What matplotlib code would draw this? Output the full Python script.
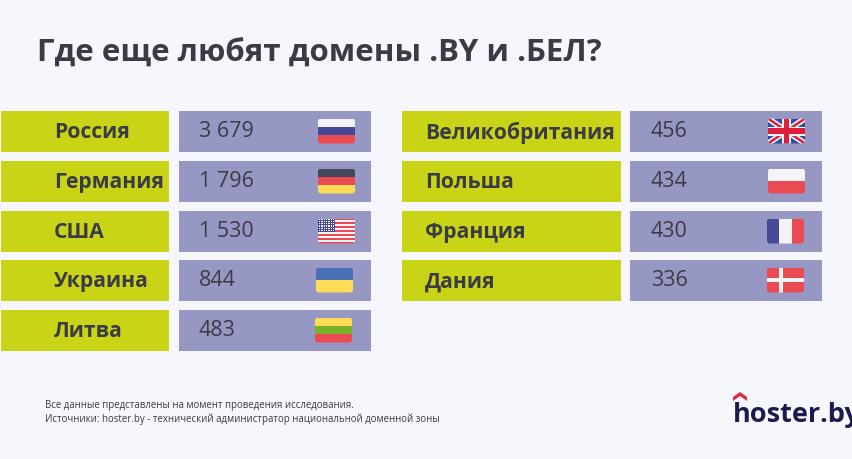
import matplotlib
matplotlib.use('Agg')
import matplotlib.pyplot as plt
from matplotlib.patches import Rectangle, FancyBboxPatch, Polygon

# Data
title = 'Где еще любят домены .BY и .БЕЛ?'
left_countries = ['Россия', 'Германия', 'США', 'Украина', 'Литва']
left_values = ['3 679', '1 796', '1 530', '844', '483']
left_flags = ['ru', 'de', 'us', 'ua', 'lt']
right_countries = ['Великобритания', 'Польша', 'Франция', 'Дания']
right_values = ['456', '434', '430', '336']
right_flags = ['gb', 'pl', 'fr', 'dk']
note_lines = ['Все данные представлены на момент проведения исследования.',
              'Источники: hoster.by - технический администратор национальной доменной зоны']
logo_text = 'hoster.by'

BG = '#f6f7fc'
GREEN = '#c9d416'
PURPLE = '#9797c3'
DARK = '#3b3b45'
RED = '#ea4a52'
BLUE = '#44499a'
WHITE = '#f4f4f6'
YELLOW = '#ffdc55'
NAVY = '#1d1b4d'

ROW_TOPS = [112, 162, 212, 261, 311]
ROW_H = 40.5

plt.rcParams['font.family'] = ['Open Sans', 'DejaVu Sans']

fig = plt.figure(figsize=(8.53, 4.60), dpi=100, facecolor=BG)
ax = fig.add_axes([0, 0, 1, 1])
ax.set_xlim(0, 853)
ax.set_ylim(460, 0)
ax.axis('off')


def stripes(clip, x, y, w, h, colors, vertical=False):
    n = len(colors)
    for i, c in enumerate(colors):
        if vertical:
            r = Rectangle((x + i * w / n, y), w / n, h, fc=c, lw=0, zorder=3)
        else:
            r = Rectangle((x, y + i * h / n), w, h / n, fc=c, lw=0, zorder=3)
        ax.add_patch(r)
        r.set_clip_path(clip)


def draw_flag(code, x, y, w=37, h=25):
    clip = FancyBboxPatch((x, y), w, h, boxstyle='round,pad=0,rounding_size=3',
                          fc='none', ec='none', zorder=3)
    ax.add_patch(clip)
    if code == 'ru':
        stripes(clip, x, y, w, h, [WHITE, BLUE, RED])
    elif code == 'de':
        stripes(clip, x, y, w, h, ['#45475a', RED, YELLOW])
    elif code == 'ua':
        stripes(clip, x, y, w, h, ['#4b6fb5', YELLOW])
    elif code == 'lt':
        stripes(clip, x, y, w, h, [YELLOW, '#7cb028', RED])
    elif code == 'pl':
        stripes(clip, x, y, w, h, [WHITE, RED])
    elif code == 'fr':
        stripes(clip, x, y, w, h, [BLUE, WHITE, RED], vertical=True)
    elif code == 'us':
        stripes(clip, x, y, w, h, [RED if i % 2 == 0 else WHITE for i in range(13)])
        cw, ch = w * 0.45, h * 7 / 13
        canton = Rectangle((x, y), cw, ch, fc=BLUE, lw=0, zorder=3.1)
        ax.add_patch(canton)
        canton.set_clip_path(clip)
        for row in range(7):
            for col in range(9):
                ax.add_patch(Rectangle((x + 1 + col * 1.75, y + 0.9 + row * 1.75), 0.9, 0.9,
                                       fc='white', lw=0, zorder=3.2))
    elif code == 'dk':
        stripes(clip, x, y, w, h, [RED])
        for r in [Rectangle((x + 12, y), 4, h, fc=WHITE, lw=0, zorder=3.1),
                  Rectangle((x, y + h / 2 - 2), w, 4, fc=WHITE, lw=0, zorder=3.1)]:
            ax.add_patch(r)
            r.set_clip_path(clip)
    elif code == 'gb':
        stripes(clip, x, y, w, h, ['#2f4da0'])
        for lw, col in [(4.2, WHITE), (1.8, '#dd1f3d')]:
            for x0, x1 in [(x, x + w), (x + w, x)]:
                ln, = ax.plot([x0, x1], [y, y + h], color=col, lw=lw, zorder=3.1,
                              solid_capstyle='butt')
                ln.set_clip_path(clip)
        for r in [Rectangle((x + w / 2 - 4.5, y), 9, h, fc=WHITE, lw=0, zorder=3.2),
                  Rectangle((x, y + h / 2 - 4.5), w, 9, fc=WHITE, lw=0, zorder=3.2),
                  Rectangle((x + w / 2 - 2.7, y), 5.4, h, fc='#dd1f3d', lw=0, zorder=3.3),
                  Rectangle((x, y + h / 2 - 2.7), w, 5.4, fc='#dd1f3d', lw=0, zorder=3.3)]:
            ax.add_patch(r)
            r.set_clip_path(clip)


def draw_column(countries, values, flags, label_x0, label_x1, val_x0, val_x1,
                label_text_x, val_text_x, flag_xs):
    for i, (name, val, flag) in enumerate(zip(countries, values, flags)):
        top = ROW_TOPS[i]
        ax.add_patch(Rectangle((label_x0, top), label_x1 - label_x0, ROW_H, fc=GREEN, lw=0))
        ax.add_patch(Rectangle((val_x0, top), val_x1 - val_x0, ROW_H, fc=PURPLE, lw=0))
        mid = top + ROW_H / 2
        ax.text(label_text_x, mid + 0.5, name, fontsize=15.2, fontweight='bold', color=DARK,
                ha='left', va='center')
        ax.text(val_text_x, mid - 0.5, val, fontsize=15.5, color=DARK, ha='left', va='center')
        draw_flag(flag, flag_xs[i], top + 7.5)


draw_column(left_countries, left_values, left_flags, 1, 169, 179, 371, 54, 199,
            [318, 318, 318, 316, 315])
draw_column(right_countries, right_values, right_flags, 402, 621, 630, 822, 425, 651,
            [768, 768, 767, 767])

ax.text(37, 54, title, fontsize=22.5, fontweight='bold', color=DARK, ha='left', va='center')

ax.text(45, 405.5, note_lines[0], fontsize=6.9, color=DARK, ha='left', va='center')
ax.text(45, 419, note_lines[1], fontsize=6.9, color=DARK, ha='left', va='center')

# logo
ax.add_patch(Polygon([(733, 398), (740, 393), (747, 398), (747, 402), (740, 397), (733, 402)],
                     closed=True, fc='#e8283f', lw=0))
ax.text(733, 415, logo_text, fontsize=19.5, fontweight='bold', color=NAVY, ha='left', va='center')

fig.savefig('out.png', dpi=100, facecolor=BG)
